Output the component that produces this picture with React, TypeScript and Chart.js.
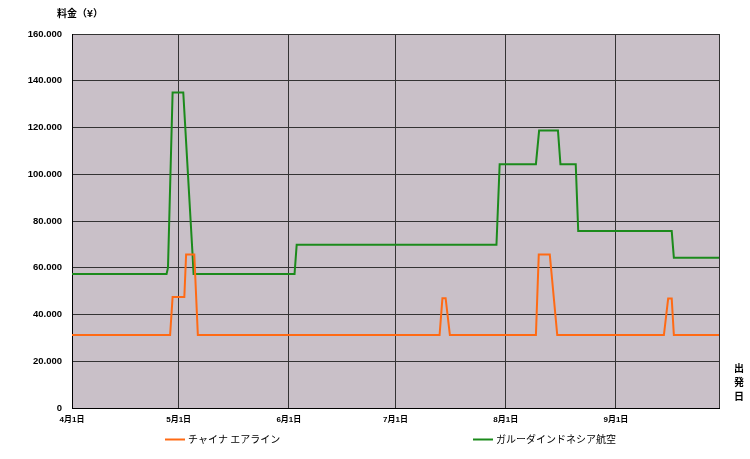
import React, { useEffect, useRef } from "react";
import { Chart, registerables } from "chart.js";

Chart.register(...registerables);

// ---- data ----
const seriesNames = ["チャイナ エアライン", "ガルーダインドネシア航空"];
const seriesColors = ["#ff6a14", "#1b8a1b"];

// vertices of the fare lines: day index from 4月1日 (0) and fare in yen
const chinaDays = [0, 27.6, 28.3, 31.6, 32.1, 34.4, 35.4, 103.4, 104.2, 105.1, 106.3, 130.5, 131.3, 134.4, 136.5, 166.5, 167.7, 168.7, 169.3, 182];
const chinaFares = [31200, 31200, 47500, 47500, 65700, 65700, 31200, 31200, 47000, 47000, 31200, 31200, 65700, 65700, 31200, 31200, 46800, 46800, 31200, 31200];

const garudaDays = [0, 26.6, 27.0, 28.3, 31.3, 33.9, 34.2, 62.6, 63.2, 119.4, 120.3, 130.5, 131.4, 136.7, 137.4, 141.7, 142.4, 168.7, 169.3, 182];
const garudaFares = [57300, 57300, 60000, 135000, 135000, 66000, 57300, 57300, 69800, 69800, 104300, 104300, 118700, 118700, 104300, 104300, 75700, 75700, 64300, 64300];

const monthTickDays = [0, 30, 61, 91, 122, 153];
const monthTickLabels = ["4月1日", "5月1日", "6月1日", "7月1日", "8月1日", "9月1日"];
const lastDay = 182;

const yMax = 160000;
const yStep = 20000;

const yTitle = "料金（¥）";
const xTitle = "出発日";

const toPoints = (xs: number[], ys: number[]) => xs.map((x, i) => ({ x, y: ys[i] }));

const fmtYen = (v: number) => {
  if (v === 0) return "0";
  const s = Math.round(v).toString();
  return s.replace(/\B(?=(\d{3})+(?!\d))/g, ".");
};

const bgPlugin = {
  id: "plotBg",
  beforeDraw(chart: any) {
    const { ctx, chartArea } = chart;
    ctx.save();
    ctx.fillStyle = "#c9c0c8";
    ctx.fillRect(chartArea.left, chartArea.top, chartArea.right - chartArea.left, chartArea.bottom - chartArea.top);
    ctx.restore();
  },
};

const textPlugin = {
  id: "extraText",
  afterDraw(chart: any) {
    const { ctx } = chart;
    ctx.save();
    ctx.fillStyle = "#000";
    ctx.textBaseline = "middle";
    ctx.font = 'bold 10px "Noto Sans CJK JP", sans-serif';
    ctx.textAlign = "left";
    ctx.fillText(yTitle, 57, 13.5);
    ctx.textAlign = "center";
    const chars = Array.from(xTitle);
    chars.forEach((c, i) => ctx.fillText(c, 739, 368 + i * 14));

    // legend
    const legendX = [165, 473];
    chart.data.datasets.forEach((ds: any, i: number) => {
      const x = legendX[i];
      const y = 439.5;
      ctx.strokeStyle = ds.borderColor;
      ctx.lineWidth = 2;
      ctx.beginPath();
      ctx.moveTo(x, y);
      ctx.lineTo(x + 20, y);
      ctx.stroke();
      ctx.fillStyle = "#000";
      ctx.textAlign = "left";
      ctx.font = '10px "Noto Sans CJK JP", sans-serif';
      ctx.fillText(ds.label, x + 23, y);
    });
    ctx.restore();
  },
};

export default function App() {
  const ref = useRef<HTMLCanvasElement | null>(null);

  useEffect(() => {
    if (!ref.current) return;
    const chart = new Chart(ref.current, {
      type: "line",
      data: {
        datasets: [
          {
            label: seriesNames[0],
            data: toPoints(chinaDays, chinaFares),
            borderColor: seriesColors[0],
            backgroundColor: seriesColors[0],
            borderWidth: 2,
            pointRadius: 0,
            tension: 0,
          },
          {
            label: seriesNames[1],
            data: toPoints(garudaDays, garudaFares),
            borderColor: seriesColors[1],
            backgroundColor: seriesColors[1],
            borderWidth: 2,
            pointRadius: 0,
            tension: 0,
          },
        ],
      },
      options: {
        responsive: false,
        animation: false,
        events: [],
        layout: { padding: { top: 34, right: 31, bottom: 0, left: 0 } },
        plugins: {
          legend: { display: false },
          title: { display: false },
          tooltip: { enabled: false },
        },
        scales: {
          x: {
            type: "linear",
            min: 0,
            max: lastDay,
            afterBuildTicks: (scale: any) => {
              scale.ticks = [...monthTickDays, lastDay].map((v) => ({ value: v }));
            },
            afterFit: (scale: any) => {
              scale.height = 51;
            },
            grid: { color: "#333333", lineWidth: 1, drawTicks: false },
            border: { color: "#000", width: 1 },
            ticks: {
              autoSkip: false,
              maxRotation: 0,
              padding: 7,
              color: "#000",
              font: { family: '"Liberation Sans", "Noto Sans CJK JP", sans-serif', size: 8, weight: "bold" },
              callback: (v: any) => {
                const idx = monthTickDays.indexOf(Number(v));
                return idx >= 0 ? monthTickLabels[idx] : "";
              },
            },
          },
          y: {
            type: "linear",
            min: 0,
            max: yMax,
            afterFit: (scale: any) => {
              scale.width = 72;
            },
            grid: { color: "#333333", lineWidth: 1, drawTicks: false },
            border: { color: "#000", width: 1 },
            ticks: {
              stepSize: yStep,
              padding: 10,
              color: "#000",
              font: { family: '"Liberation Sans", Arial, sans-serif', size: 9.5, weight: "bold" },
              callback: (v: any) => fmtYen(Number(v)),
            },
          },
        },
      },
      plugins: [bgPlugin, textPlugin],
    } as any);
    return () => chart.destroy();
  }, []);

  return (
    <div style={{ position: "absolute", left: 0, top: 0, width: 750, height: 459, background: "#fff" }}>
      <canvas ref={ref} width={750} height={459} style={{ display: "block" }} />
    </div>
  );
}
